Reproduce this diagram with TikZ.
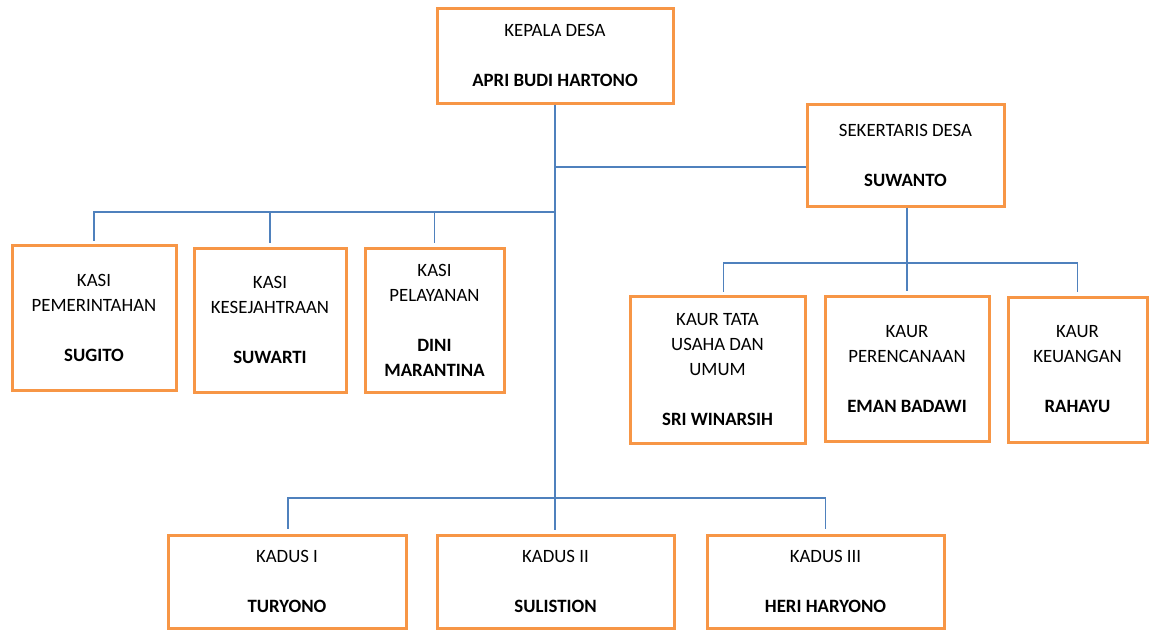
\documentclass[tikz,border=0pt]{standalone}
\usepackage{fontspec}
\setmainfont{Carlito}
\usepackage{tikz}

\definecolor{oranye}{RGB}{247,150,70}
\definecolor{biru}{RGB}{79,129,189}

\tikzset{
  jabatan/.style={draw=oranye, line width=3pt, fill=white, align=center, inner sep=0pt,
    font=\fontsize{18.8}{25}\selectfont},
  garis/.style={draw=biru, line width=1.3pt},
}

\begin{document}
\begin{tikzpicture}[x=1pt,y=1pt,yscale=-1,xscale=1]
        \useasboundingbox (0,0) rectangle (1156,630);

        %Shape: Kepala Desa
        \node (kepala) at (555,55.5) [jabatan, minimum width=236, minimum height=95] {KEPALA DESA\\[25pt]\textbf{APRI BUDI HARTONO}};
        %Shape: Sekertaris Desa
        \node (sekdes) at (905.5,155) [jabatan, minimum width=197, minimum height=102] {SEKERTARIS DESA\\[25pt]\textbf{SUWANTO}};

        %Shape: Kasi
        \node (kasiPem) at (94,317.5) [jabatan, minimum width=164, minimum height=145] {KASI\\PEMERINTAHAN\\[25pt]\textbf{SUGITO}};
        \node (kasiKes) at (270,320) [jabatan, minimum width=152, minimum height=144] {KASI\\KESEJAHTRAAN\\[25pt]\textbf{SUWARTI}};
        \node (kasiPel) at (434.5,320) [jabatan, minimum width=139, minimum height=144] {KASI\\PELAYANAN\\[25pt]\textbf{DINI}\\\textbf{MARANTINA}};

        %Shape: Kaur
        \node (kaurTU) at (717.5,369.5) [jabatan, minimum width=175, minimum height=147] {KAUR TATA\\USAHA DAN\\UMUM\\[25pt]\textbf{SRI WINARSIH}};
        \node (kaurRen) at (907,368.5) [jabatan, minimum width=164, minimum height=145] {KAUR\\PERENCANAAN\\[25pt]\textbf{EMAN BADAWI}};
        \node (kaurKeu) at (1077.5,369.5) [jabatan, minimum width=139, minimum height=145] {KAUR\\KEUANGAN\\[25pt]\textbf{RAHAYU}};

        %Shape: Kadus
        \node (kadus1) at (287,581.5) [jabatan, minimum width=238, minimum height=93] {KADUS I\\[25pt]\textbf{TURYONO}};
        \node (kadus2) at (555.5,581.5) [jabatan, minimum width=237, minimum height=93] {KADUS II\\[25pt]\textbf{SULISTION}};
        \node (kadus3) at (825.5,581.5) [jabatan, minimum width=237, minimum height=93] {KADUS III\\[25pt]\textbf{HERI HARYONO}};

        %Straight Lines: titik cabang
        \coordinate (cabSekdes) at (555,167);
        \coordinate (cabKasi) at (555,212);
        \coordinate (cabKaur) at (907,263);
        \coordinate (cabKadus) at (555,498);

        %Straight Lines: garis utama
        \draw [garis, shorten >=4pt] (kepala.south) -- (kepala.south |- kadus2.north);
        \draw [garis] (cabSekdes) -- (cabSekdes -| sekdes.west);
        %Straight Lines: kasi
        \draw [garis, shorten >=3pt] (cabKasi) -| (kasiPem.north);
        \draw [garis, shorten >=4pt] (cabKasi) -| (kasiKes.north);
        \draw [garis, shorten >=4pt] (cabKasi) -| (kasiPel.north);
        %Straight Lines: kaur
        \draw [garis, shorten >=4pt] (kaurRen.north |- sekdes.south) -- (kaurRen.north);
        \draw [garis, shorten >=3pt] (cabKaur) -| ([xshift=6]kaurTU.north);
        \draw [garis, shorten >=4pt] (cabKaur) -| (kaurKeu.north);
        %Straight Lines: kadus
        \draw [garis, shorten >=5pt] (cabKadus) -| ([xshift=1]kadus1.north);
        \draw [garis, shorten >=5pt] (cabKadus) -| (kadus3.north);
\end{tikzpicture}
\end{document}
